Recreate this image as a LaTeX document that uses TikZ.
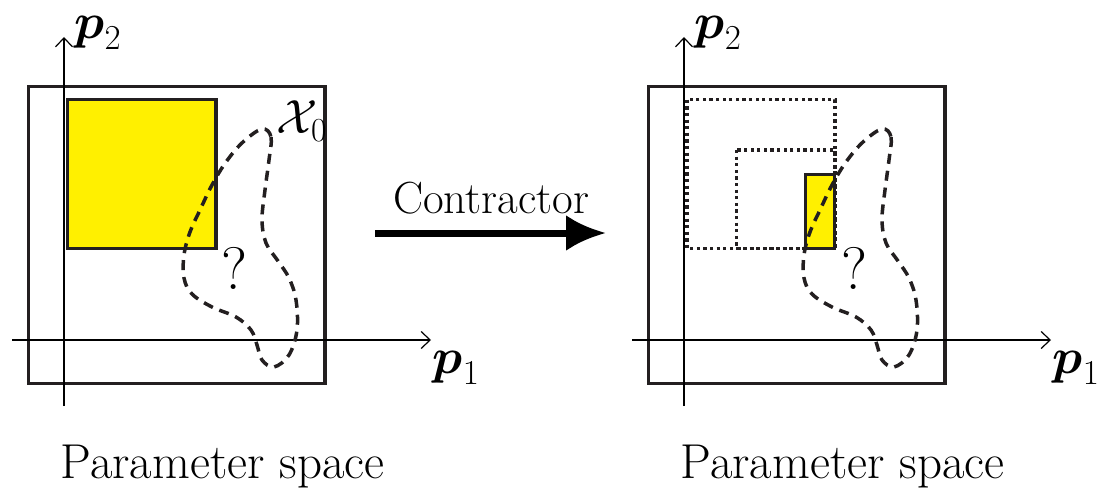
\RequirePackage{fix-cm}
\documentclass[tikz,border=0pt]{standalone}
\usepackage{amsmath,amssymb}
\usetikzlibrary{arrows.meta}
\definecolor{boxyellow}{HTML}{FFF000}
\definecolor{darkgray}{HTML}{231F20}

\tikzset{
  axis/.style={line width=1.2pt,-{Straight Barb[length=9pt,width=17pt,line width=1.2pt]}},
  frame/.style={line width=3.5pt,darkgray},
  region/.style={line width=3.5pt,dash pattern=on 10pt off 7pt,darkgray},
  oldbox/.style={line width=3.2pt,dash pattern=on 3.2pt off 3.4pt,darkgray},
  label/.style={inner sep=0pt,font=\fontsize{50}{60}\selectfont}
}

\begin{document}
\begin{tikzpicture}[x=1pt,y=-1pt]
  \useasboundingbox (0,0) rectangle (1099,495);
  % both panels: frame, axes and labels
  \foreach \dx/\n in {0/L,620/R}{
    \begin{scope}[xshift=\dx pt]
      \draw[frame] (28.7,86.7) rectangle (325,383.3);
      \coordinate (h0\n) at (12,340);
      \coordinate (h1\n) at (431,340);
      \coordinate (v0\n) at (64,406);
      \coordinate (v1\n) at (64,37);
      \draw[axis] (h0\n) -- (h1\n);
      \draw[axis] (v0\n) -- (v1\n);
      \node[label] (p1\n) at (456,368) {$\boldsymbol{p}_1$};
      \node[label] (p2\n) at (98,33) {$\boldsymbol{p}_2$};
      \node[label,font=\fontsize{60}{70}\selectfont] (q\n) at (234,268) {?};
      \node[anchor=base,font=\fontsize{49}{60}\selectfont] (ps\n) at (222.5,478) {Parameter space};
    \end{scope}
  }
  % boxes
  \fill[boxyellow] (67.7,99.3) rectangle (216,248.3);
  \draw[frame] (67.7,99.3) rectangle (216,248.3);
  \draw[oldbox] (687,99.7) rectangle (835,248.3);
  \draw[oldbox] (736.7,150) rectangle (835,248.3);
  \fill[boxyellow] (805.7,174.3) rectangle (834.3,248.3);
  \draw[frame] (805.7,174.3) rectangle (834.3,248.3);
  % uncertain set
  \foreach \dx in {0,620}{
    \draw[region,xshift=\dx pt] plot[smooth cycle,tension=0.6] coordinates {
      (262,129) (271,137) (269,160) (265,190) (262,220) (266,243) (278,261)
      (289,278) (296,300) (297,330) (289,355) (274,367) (262,360) (257,345)
      (251,330) (236,317) (212,307) (192,294) (184,278) (184,255) (190,232)
      (200,210) (212,185) (226,162) (243,142)};
  }
  \node[label,font=\fontsize{48}{60}\selectfont] (X0) at (302,121) {$\mathcal{X}_0$};
  % contractor arrow
  \coordinate (a0) at (375,233);
  \coordinate (a1) at (606,233);
  \draw[line width=7pt,-{Latex[length=40pt,width=36pt]}] (a0) -- (a1);
  \node[anchor=base,font=\fontsize{45}{54}\selectfont] (ctr) at (491,213) {Contractor};
\end{tikzpicture}
\end{document}
